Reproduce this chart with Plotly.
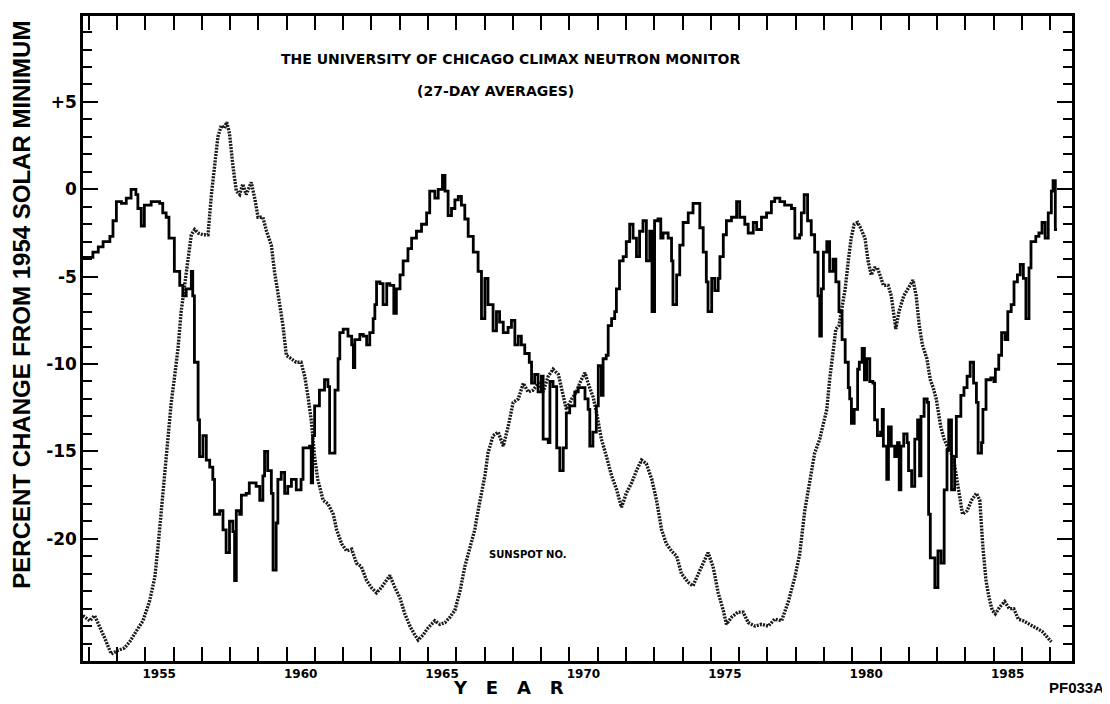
import plotly.graph_objects as go

# ---------------- data ----------------
# Climax neutron monitor, 27-day averages: percent change from 1954 solar minimum
neutron_years = [
    1952.8, 1953.15, 1953.34, 1953.51, 1953.75, 1953.86, 1953.98, 1954.16, 1954.33, 1954.5,
    1954.67, 1954.74, 1954.86, 1954.97, 1955.21, 1955.51, 1955.62, 1955.74, 1955.84, 1956.03,
    1956.22, 1956.33, 1956.45, 1956.63, 1956.68, 1956.74, 1956.87, 1956.92, 1957.04, 1957.16,
    1957.28, 1957.39, 1957.45, 1957.63, 1957.75, 1957.86, 1957.98, 1958.1, 1958.16, 1958.22,
    1958.34, 1958.4, 1958.57, 1958.68, 1958.92, 1959.05, 1959.16, 1959.22, 1959.33, 1959.46,
    1959.52, 1959.63, 1959.69, 1959.81, 1959.93, 1960.04, 1960.17, 1960.34, 1960.51, 1960.58,
    1960.81, 1960.87, 1960.92, 1960.99, 1961.16, 1961.34, 1961.46, 1961.52,
    1961.71, 1961.82, 1961.88, 1962.0, 1962.17, 1962.3, 1962.36, 1962.41, 1962.59, 1962.71,
    1962.83, 1962.94, 1963.06, 1963.12, 1963.18, 1963.3, 1963.41, 1963.54, 1963.65, 1963.79,
    1963.88, 1964.01, 1964.12, 1964.29, 1964.42, 1964.59, 1964.77, 1964.95, 1965.06, 1965.24,
    1965.36, 1965.51, 1965.6, 1965.71, 1965.83, 1965.95, 1966.07, 1966.18, 1966.3, 1966.42,
    1966.6, 1966.77, 1966.89, 1967.01, 1967.12, 1967.3, 1967.42, 1967.53, 1967.66, 1967.83,
    1967.95, 1968.07, 1968.19, 1968.3, 1968.42, 1968.58, 1968.66, 1968.77, 1968.89, 1969.01,
    1969.07, 1969.25, 1969.31, 1969.42, 1969.55, 1969.66, 1969.78, 1969.89, 1970.01, 1970.19,
    1970.31, 1970.42, 1970.55, 1970.66, 1970.72, 1970.83, 1970.95, 1971.02, 1971.13, 1971.19,
    1971.3, 1971.37, 1971.49, 1971.6, 1971.66, 1971.77, 1971.9, 1972.01, 1972.13, 1972.25,
    1972.37, 1972.48, 1972.6, 1972.72, 1972.84, 1972.92, 1973.01, 1973.13, 1973.23, 1973.31,
    1973.49, 1973.61, 1973.66, 1973.79, 1973.9, 1974.02, 1974.2, 1974.37, 1974.49, 1974.61,
    1974.73, 1974.84, 1974.9, 1975.03, 1975.14, 1975.26, 1975.32, 1975.44, 1975.55, 1975.73,
    1975.91, 1976.02, 1976.2, 1976.32, 1976.5, 1976.62, 1976.79, 1976.97, 1977.14, 1977.26,
    1977.44, 1977.61, 1977.85, 1977.97, 1978.14, 1978.2, 1978.3, 1978.42, 1978.55, 1978.67,
    1978.79, 1978.85, 1978.91,
    1978.98, 1979.1, 1979.2, 1979.32, 1979.42, 1979.53, 1979.64, 1979.75, 1979.86, 1979.91,
    1979.97, 1980.07, 1980.19, 1980.25, 1980.35, 1980.43, 1980.51, 1980.62, 1980.73, 1980.79,
    1980.89, 1981.0, 1981.06, 1981.1, 1981.22, 1981.28, 1981.38, 1981.5, 1981.6, 1981.66,
    1981.72, 1981.82, 1981.94, 1981.99, 1982.1, 1982.21, 1982.31, 1982.38, 1982.43, 1982.54,
    1982.65, 1982.7, 1982.76, 1982.92, 1983.03, 1983.14, 1983.25, 1983.35, 1983.41, 1983.51,
    1983.62, 1983.68, 1983.84, 1983.95, 1984.06, 1984.17, 1984.29, 1984.39, 1984.45, 1984.57,
    1984.62, 1984.73, 1984.9, 1985.01, 1985.06, 1985.18, 1985.28, 1985.4, 1985.5, 1985.62,
    1985.72, 1985.84, 1985.94, 1986.05, 1986.14, 1986.25, 1986.32, 1986.49, 1986.6, 1986.71,
    1986.82, 1986.93, 1987.04, 1987.1, 1987.18, 1987.24,
]
neutron_pct = [
    -3.9, -3.6, -3.3, -3.0, -2.7, -1.8, -0.7, -0.8, -0.5, 0.0,
    -0.3, -1.1, -2.1, -0.9, -0.7, -0.8, -1.35, -1.6, -2.8, -4.7,
    -5.5, -6.1, -5.7, -4.7, -6.1, -9.9, -13.2, -15.3, -14.1, -15.5,
    -15.9, -16.6, -18.6, -18.4, -19.5, -20.8, -19.0, -19.6, -22.4, -18.4,
    -18.6, -17.5, -17.4, -16.8, -17.0, -17.8, -16.4, -15.0, -16.1, -17.4,
    -21.8, -19.1, -16.6, -16.2, -17.4, -17.0, -16.6, -17.2, -16.6, -14.8,
    -14.7, -16.8, -14.1, -12.4, -11.5, -10.9, -11.3, -15.1,
    -11.5, -9.7, -8.2, -8.0, -8.4, -8.9, -10.2, -8.6, -8.3, -8.4,
    -8.9, -8.2, -7.4, -6.6, -5.3, -5.4, -6.6, -5.4, -5.5, -7.1,
    -5.7, -4.9, -4.1, -3.4, -2.8, -2.4, -2.0, -1.35, -0.1, -0.5,
    0.0, 0.8, -0.1, -1.5, -1.1, -0.6, -0.4, -0.9, -1.7, -2.7,
    -3.6, -4.7, -7.4, -5.1, -6.6, -8.1, -7.0, -7.6, -8.2, -7.9,
    -7.5, -8.9, -8.4, -8.9, -9.4, -9.9, -11.1, -10.6, -11.6, -10.7,
    -14.3, -14.5, -11.0, -11.3, -14.8, -16.1, -14.8, -12.8, -12.4, -11.6,
    -11.35, -11.35, -12.0, -12.6, -14.7, -13.9, -12.4, -10.1, -11.8, -9.7,
    -9.5, -7.8, -7.4, -7.0, -5.7, -4.1, -3.85, -3.0, -2.0, -2.8,
    -3.85, -2.4, -1.8, -4.1, -2.4, -7.0, -1.8, -1.7, -2.8, -2.5,
    -2.8, -4.1, -6.6, -4.9, -3.2, -1.9, -1.35, -0.8, -0.8, -2.2,
    -3.6, -5.3, -7.0, -5.1, -5.8, -5.1, -3.85, -2.6, -1.8, -1.6,
    -0.7, -1.6, -2.0, -2.5, -1.9, -2.3, -1.6, -1.35, -0.7, -0.5,
    -0.7, -0.9, -1.1, -2.8, -2.6, -1.35, -0.3, -1.8, -2.6, -3.6,
    -6.1, -8.4, -5.7,
    -3.6, -3.0, -4.7, -4.0, -5.3, -7.0, -8.6, -9.9, -11.35, -12.0,
    -13.4, -12.6, -10.3, -9.9, -9.1, -10.9, -9.7, -11.0, -11.1, -13.2,
    -14.1, -13.9, -12.6, -14.7, -16.6, -13.6, -14.7, -15.3, -14.5, -17.2,
    -14.7, -14.0, -14.5, -16.1, -17.0, -14.3, -13.2, -16.4, -13.0, -12.0,
    -12.2, -18.6, -21.1, -22.8, -20.7, -21.4, -17.2, -14.9, -13.2, -17.2,
    -15.3, -13.0, -11.8, -11.35, -10.7, -9.9, -11.1, -12.2, -15.1, -14.5,
    -12.6, -10.9, -10.8, -11.0, -10.3, -9.5, -8.2, -8.6, -7.0, -6.6,
    -5.3, -4.9, -4.3, -5.1, -7.4, -4.5, -3.0, -2.7, -2.5, -1.9,
    -2.8, -1.35, -0.1, 0.5, -2.3, -2.3,
]

# Sunspot number, drawn on the same (inverted, scaled) vertical axis
sunspot_years = [
    1952.8, 1953.04, 1953.21, 1953.39, 1953.57, 1953.8, 1954.03, 1954.27, 1954.45, 1954.68,
    1954.92, 1955.15, 1955.34, 1955.45, 1955.57, 1955.69, 1955.8, 1955.92, 1956.04, 1956.16,
    1956.27, 1956.4, 1956.51, 1956.63, 1956.75, 1956.87, 1957.04, 1957.22, 1957.34, 1957.45,
    1957.57, 1957.69, 1957.8, 1957.88, 1957.98, 1958.1, 1958.22, 1958.34, 1958.45, 1958.57,
    1958.68, 1958.75, 1958.87, 1958.99, 1959.16, 1959.29, 1959.46, 1959.57, 1959.69, 1959.87,
    1959.99, 1960.17, 1960.34, 1960.51, 1960.64, 1960.75, 1960.87, 1960.99, 1961.1, 1961.29,
    1961.46,
    1961.65, 1961.77, 1961.95, 1962.12, 1962.3, 1962.47, 1962.64, 1962.83, 1963.0, 1963.18,
    1963.35, 1963.54, 1963.65, 1963.83, 1964.01, 1964.18, 1964.36, 1964.53, 1964.65, 1964.83,
    1965.0, 1965.24, 1965.42, 1965.6, 1965.77, 1965.95, 1966.13, 1966.3, 1966.48, 1966.65,
    1966.77, 1966.89, 1967.01, 1967.12, 1967.3, 1967.48, 1967.66, 1967.83, 1968.01, 1968.19,
    1968.37, 1968.54, 1968.71, 1968.9, 1969.07, 1969.25, 1969.42, 1969.61, 1969.72, 1969.89,
    1970.08, 1970.25, 1970.36,
    1970.42, 1970.55, 1970.66, 1970.84, 1970.96, 1971.13, 1971.31, 1971.49, 1971.67, 1971.84,
    1972.01, 1972.2, 1972.37, 1972.55, 1972.72, 1972.91, 1973.08, 1973.26, 1973.43, 1973.61,
    1973.79, 1973.96, 1974.2, 1974.37, 1974.56, 1974.73, 1974.9, 1975.08, 1975.26, 1975.44,
    1975.55, 1975.73, 1975.96, 1976.14, 1976.32, 1976.56, 1976.79, 1977.03, 1977.26, 1977.5,
    1977.74, 1977.97, 1978.14, 1978.32, 1978.5, 1978.67, 1978.85,
    1978.98, 1979.1, 1979.2, 1979.32, 1979.42, 1979.53, 1979.64, 1979.75, 1979.86, 1979.96,
    1980.07, 1980.19, 1980.29, 1980.45, 1980.56, 1980.67, 1980.79, 1980.89, 1981.0, 1981.1,
    1981.27, 1981.38, 1981.54, 1981.65, 1981.82, 1981.98, 1982.15, 1982.26, 1982.37, 1982.48,
    1982.64, 1982.76, 1982.86, 1982.97, 1983.13, 1983.25, 1983.41, 1983.57, 1983.68, 1983.79,
    1983.9, 1984.06, 1984.22, 1984.39, 1984.51, 1984.62, 1984.73, 1984.84, 1984.95, 1985.06,
    1985.22, 1985.39, 1985.55, 1985.71, 1985.87, 1986.05, 1986.27, 1986.49, 1986.71, 1986.93,
    1987.04,
]
sunspot_scaled = [
    -24.4, -24.7, -24.4, -25.0, -25.7, -26.6, -26.4, -26.25, -25.9, -25.3,
    -24.7, -23.6, -22.2, -20.5, -18.4, -16.4, -14.3, -12.2, -10.7, -9.1,
    -7.0, -5.5, -4.3, -2.6, -2.3, -2.5, -2.6, -2.6, -0.3, 1.35,
    3.0, 3.65, 3.5, 3.85, 3.2, 1.35, -0.1, -0.3, 0.3, -0.3,
    0.1, 0.4, -0.5, -1.6, -1.6, -2.4, -3.2, -4.7, -5.9, -7.8,
    -9.5, -9.7, -9.9, -9.9, -10.7, -11.8, -13.2, -15.3, -16.6, -17.8,
    -18.0,
    -18.6, -19.5, -20.3, -20.7, -20.6, -21.4, -21.6, -22.4, -22.8, -23.1,
    -22.8, -22.4, -22.1, -22.8, -23.4, -24.3, -25.0, -25.5, -25.8, -25.5,
    -25.1, -24.7, -24.9, -24.8, -24.5, -24.1, -23.0, -21.6, -20.5, -19.5,
    -18.4, -17.4, -16.4, -15.1, -14.1, -13.9, -14.7, -13.6, -12.2, -12.0,
    -11.1, -11.6, -11.5, -11.1, -11.6, -10.7, -10.3, -10.6, -11.35, -12.6,
    -12.0, -11.6, -11.1,
    -10.9, -10.5, -11.1, -11.9, -12.8, -14.3, -15.3, -16.4, -17.2, -18.2,
    -17.4, -16.8, -16.1, -15.5, -15.7, -16.6, -17.8, -19.5, -20.3, -20.7,
    -21.0, -22.0, -22.5, -22.7, -22.0, -21.4, -20.8, -21.6, -23.1, -24.1,
    -24.9, -24.5, -24.2, -24.2, -24.8, -25.0, -24.9, -25.0, -24.6, -24.7,
    -23.6, -22.2, -20.9, -18.4, -16.6, -15.1, -14.3,
    -13.4, -12.6, -10.9, -9.1, -8.0, -7.8, -6.8, -5.7, -4.1, -2.8,
    -2.0, -1.9, -2.2, -2.8, -4.1, -4.9, -4.5, -4.5, -5.0, -5.5,
    -5.5, -6.1, -8.0, -7.0, -6.1, -5.7, -5.2, -6.1, -7.8, -8.9,
    -9.7, -10.9, -11.35, -12.0, -13.6, -14.3, -14.9, -15.3, -16.4, -17.8,
    -18.6, -18.4, -17.8, -17.4, -17.8, -20.5, -22.4, -23.4, -24.1, -24.3,
    -23.9, -23.6, -24.0, -24.0, -24.6, -24.7, -24.9, -25.1, -25.3, -25.7,
    -25.9,
]
assert len(neutron_years) == len(neutron_pct)
assert len(sunspot_years) == len(sunspot_scaled)

x_tick_years = list(range(1953, 1988))
x_label_years = [1955, 1960, 1965, 1970, 1975, 1980, 1985]
y_tick_vals = [5, 0, -5, -10, -15, -20]
y_tick_text = ["+5", "0", "-5", "-10", "-15", "-20"]

x_range = [1952.8, 1987.77]
y_range = [-27.0, 9.92]

# ---------------- figure ----------------
# The page body has an 8 px default margin, so the figure is drawn at (8, 8);
# sizes and margins below put the plot frame at x 83-1072, y 13-661 of the page.
fig = go.Figure()

fig.add_trace(go.Scatter(
    x=sunspot_years, y=sunspot_scaled, mode="lines",
    line=dict(color="#1a1a1a", width=3.4, dash="2px,1.2px"),
    hoverinfo="skip", showlegend=False,
))
fig.add_trace(go.Scatter(
    x=neutron_years, y=neutron_pct, mode="lines",
    line=dict(color="black", width=2.8, shape="hv"),
    hoverinfo="skip", showlegend=False,
))

fig.update_layout(
    width=1102, height=696,
    margin=dict(l=75, r=38, t=5, b=43),
    paper_bgcolor="white", plot_bgcolor="white",
    showlegend=False,
)

fig.update_xaxes(
    range=x_range, showgrid=False, zeroline=False,
    showline=True, linecolor="black", linewidth=2.5, mirror="ticks",
    tickmode="array", tickvals=x_tick_years,
    ticktext=[str(y) if y in x_label_years else "" for y in x_tick_years],
    ticks="inside", ticklen=14, tickwidth=2, tickcolor="black",
    ticklabelshift=14,
    tickfont=dict(family="DejaVu Sans", size=12, color="black", weight="bold"),
)
fig.update_yaxes(
    range=y_range, showgrid=False, zeroline=False,
    showline=True, linecolor="black", linewidth=2.5, mirror="ticks",
    tickmode="array", tickvals=y_tick_vals, ticktext=y_tick_text,
    ticks="inside", ticklen=15, tickwidth=2, tickcolor="black",
    tickfont=dict(family="DejaVu Sans", size=17, color="black", weight="bold"),
    minor=dict(dtick=1, tick0=0, ticks="inside", ticklen=9, tickwidth=2,
               tickcolor="black", showgrid=False),
)

def px_x(p):
    return (p - 83) / 989.0

def px_y(p):
    return (661 - p) / 648.0

annotations = [
    dict(text="THE UNIVERSITY OF CHICAGO CLIMAX NEUTRON MONITOR",
         x=px_x(510), y=px_y(56), font=dict(family="DejaVu Sans", size=14, weight="bold")),
    dict(text="(27-DAY AVERAGES)",
         x=px_x(495), y=px_y(88), font=dict(family="DejaVu Sans", size=14, weight="bold")),
    dict(text="PERCENT CHANGE FROM 1954 SOLAR MINIMUM", textangle=-90,
         x=px_x(22), y=px_y(303), font=dict(family="Liberation Sans", size=24, weight="bold")),
    dict(text="Y\u00a0\u00a0\u00a0E\u00a0\u00a0\u00a0A\u00a0\u00a0\u00a0R",
         x=px_x(508), y=px_y(688), font=dict(family="DejaVu Sans", size=18, weight="bold")),
    dict(text="PF033A", x=px_x(1106), y=px_y(688), xanchor="right",
         font=dict(family="Liberation Sans", size=15, weight="bold")),
]
for a in annotations:
    a.setdefault("xanchor", "center")
    a.update(xref="paper", yref="paper", yanchor="middle", showarrow=False)
    a["font"]["color"] = "black"
    fig.add_annotation(**a)

fig.add_annotation(text="SUNSPOT NO.", x=1968.5, y=-20.9, xref="x", yref="y",
                   showarrow=False, xanchor="center", yanchor="middle",
                   font=dict(family="DejaVu Sans", size=10, color="black", weight="bold"))

fig.write_html("out.html")
